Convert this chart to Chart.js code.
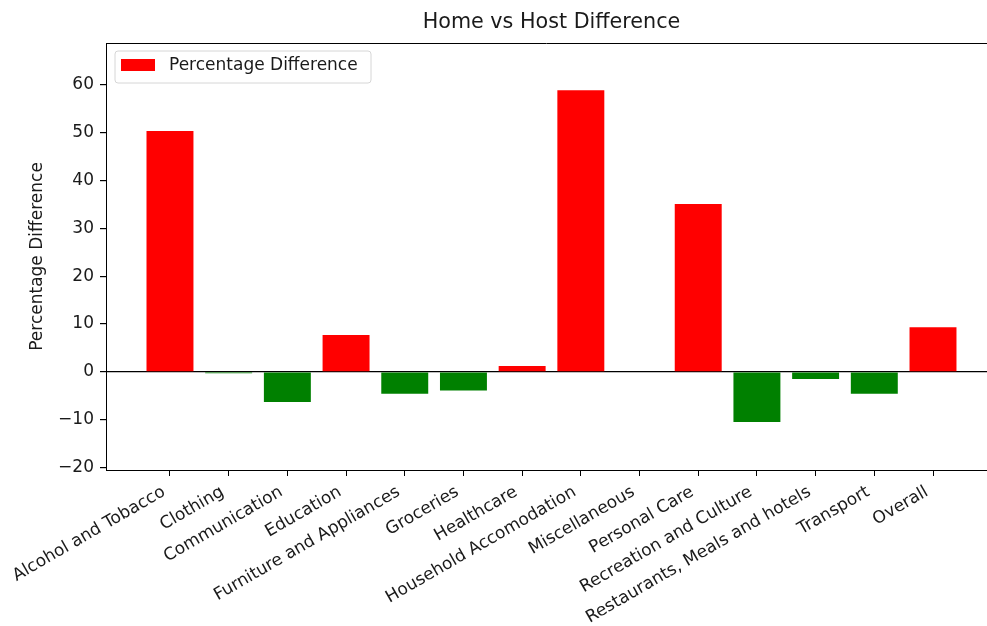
<!DOCTYPE html>
<html>
<head>
<meta charset="utf-8">
<title>Home vs Host Difference</title>
<script src="https://cdn.jsdelivr.net/npm/chart.js@4.4.1/dist/chart.umd.min.js"></script>
<style>
  html, body { margin: 0; padding: 0; background: #fff; }
  #wrap { width: 987px; height: 626px; }
</style>
</head>
<body>
<div id="wrap"><canvas id="diff"></canvas></div>
<script>
var categories = [
    'Alcohol and Tobacco', 'Clothing', 'Communication', 'Education',
    'Furniture and Appliances', 'Groceries', 'Healthcare', 'Household Accomodation',
    'Miscellaneous', 'Personal Care', 'Recreation and Culture',
    'Restaurants, Meals and hotels', 'Transport', 'Overall'
];
var diffs = [50.4, -0.3, -6.3, 7.7, -4.6, -3.9, 1.2, 58.9, 0.0, 35.1, -10.5, -1.5, -4.6, 9.3];
var yTicks = [-20, -10, 0, 10, 20, 30, 40, 50, 60];

var FONT = 'DejaVu Sans';
var TXT = '#1a1a1a';
var FS = 17;

// matplotlib-ish frame, title and legend
var frame = {
    id: 'frame',
    afterDraw: function(chart){
        var ctx = chart.ctx, a = chart.chartArea;
        ctx.save();
        ctx.strokeStyle = '#000';
        ctx.lineWidth = 1;
        ctx.beginPath();
        ctx.moveTo(a.left, a.top + 0.5);
        ctx.lineTo(a.right, a.top + 0.5);
        ctx.stroke();

        // title, centred on the (uncropped) axes
        var cx = chart.scales.x.getPixelForValue(6.5);
        ctx.fillStyle = TXT;
        ctx.font = '20.7px "' + FONT + '"';
        ctx.textAlign = 'center';
        ctx.textBaseline = 'middle';
        ctx.fillText('Home vs Host Difference', cx, a.top - 20);

        // legend box
        var lx = a.left + 9, ly = a.top + 8, lw = 256, lh = 32, r = 3;
        ctx.beginPath();
        ctx.moveTo(lx + r, ly);
        ctx.arcTo(lx + lw, ly, lx + lw, ly + lh, r);
        ctx.arcTo(lx + lw, ly + lh, lx, ly + lh, r);
        ctx.arcTo(lx, ly + lh, lx, ly, r);
        ctx.arcTo(lx, ly, lx + lw, ly, r);
        ctx.closePath();
        ctx.fillStyle = 'rgba(255,255,255,0.8)';
        ctx.fill();
        ctx.strokeStyle = '#d6d6d6';
        ctx.stroke();
        ctx.fillStyle = 'red';
        ctx.fillRect(lx + 6, ly + 8, 34, 12);
        ctx.fillStyle = TXT;
        ctx.font = FS + 'px "' + FONT + '"';
        ctx.textAlign = 'left';
        ctx.fillText('Percentage Difference', lx + 54, ly + 15);
        ctx.restore();
    }
};

var ctx = document.getElementById('diff').getContext('2d');
var myBarChart = new Chart(ctx, {
    type: 'bar',
    data: {
        datasets: [{
            label: 'Percentage Difference',
            data: diffs.map(function(v, i){ return {x: i, y: v}; }),
            backgroundColor: diffs.map(function(v){ return v < 0 ? '#008000' : '#ff0000'; }),
            borderWidth: 0,
            barPercentage: 0.8,
            categoryPercentage: 1.0
        }]
    },
    options: {
        responsive: true,
        maintainAspectRatio: false,
        animation: false,
        layout: { padding: { top: 43, right: 0, left: 0, bottom: 0 } },
        plugins: {
            legend: { display: false },
            title: { display: false },
            tooltip: { enabled: false }
        },
        scales: {
            x: {
                type: 'linear',
                offset: false,
                min: -1.09,
                max: 13.92,
                afterBuildTicks: function(scale){
                    scale.ticks = categories.map(function(c, i){ return {value: i}; });
                },
                afterFit: function(scale){ scale.height = 156; },
                ticks: {
                    autoSkip: false,
                    minRotation: 30,
                    maxRotation: 30,
                    padding: 6,
                    labelOffset: -6,
                    color: TXT,
                    font: { family: FONT, size: FS },
                    callback: function(v){ return categories[v]; }
                },
                grid: { offset: false, drawOnChartArea: false, drawTicks: true, tickLength: 6, tickColor: '#000' },
                border: { color: '#000', width: 1 }
            },
            y: {
                min: -20.55,
                max: 68.8,
                afterBuildTicks: function(scale){
                    scale.ticks = yTicks.map(function(v){ return {value: v}; });
                },
                afterFit: function(scale){ scale.width = 106; },
                ticks: {
                    padding: 6,
                    color: TXT,
                    font: { family: FONT, size: FS },
                    callback: function(v){ return String(v).replace('-', '\u2212'); }
                },
                grid: {
                    drawTicks: true,
                    tickLength: 6,
                    tickColor: '#000',
                    lineWidth: 1.2,
                    color: function(c){ return c.tick && c.tick.value === 0 ? '#000' : 'rgba(0,0,0,0)'; }
                },
                border: { color: '#000', width: 1 },
                title: {
                    display: true,
                    text: 'Percentage Difference',
                    color: TXT,
                    font: { family: FONT, size: FS },
                    padding: { top: 27, bottom: 0 }
                }
            }
        }
    },
    plugins: [frame]
});
</script>
</body>
</html>
